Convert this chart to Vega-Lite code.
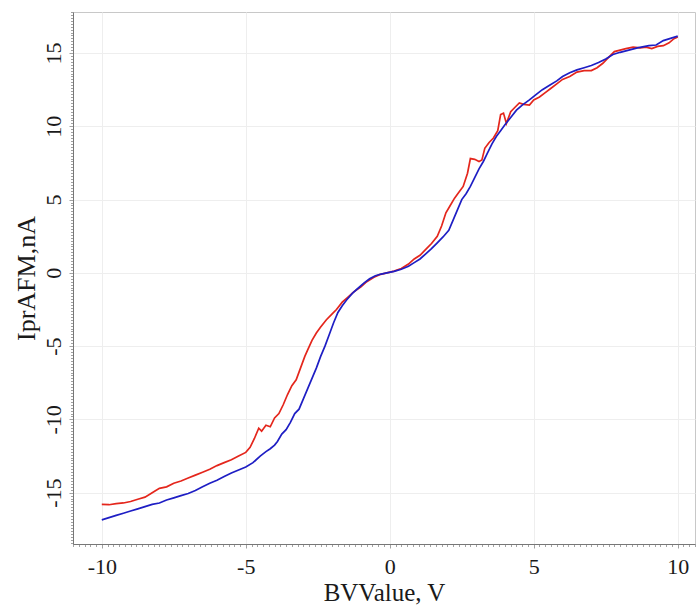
{
  "$schema": "https://vega.github.io/schema/vega-lite/v6.json",
  "width": 622,
  "height": 532,
  "autosize": {"type": "none"},
  "padding": {"left": 73, "top": 12, "right": 1, "bottom": 64},
  "background": "white",
  "config": {
    "view": {"stroke": "#c8c8c8", "strokeWidth": 1},
    "font": "Liberation Serif"
  },
  "data": {"values": [
    {"s":"forward","x":-10,"y":-15.8},{"s":"forward","x":-9.75,"y":-15.82},{"s":"forward","x":-9.5,"y":-15.75},{"s":"forward","x":-9.25,"y":-15.7},{"s":"forward","x":-9.0,"y":-15.6},{"s":"forward","x":-8.75,"y":-15.45},{"s":"forward","x":-8.5,"y":-15.3},{"s":"forward","x":-8.25,"y":-15.0},{"s":"forward","x":-8.0,"y":-14.7},{"s":"forward","x":-7.75,"y":-14.6},{"s":"forward","x":-7.5,"y":-14.35},{"s":"forward","x":-7.25,"y":-14.2},{"s":"forward","x":-7.0,"y":-14.0},{"s":"forward","x":-6.75,"y":-13.8},{"s":"forward","x":-6.5,"y":-13.6},{"s":"forward","x":-6.25,"y":-13.4},{"s":"forward","x":-6.0,"y":-13.15},{"s":"forward","x":-5.75,"y":-12.95},{"s":"forward","x":-5.5,"y":-12.75},{"s":"forward","x":-5.25,"y":-12.5},{"s":"forward","x":-5.0,"y":-12.25},{"s":"forward","x":-4.85,"y":-11.9},{"s":"forward","x":-4.7,"y":-11.3},{"s":"forward","x":-4.55,"y":-10.6},{"s":"forward","x":-4.45,"y":-10.8},{"s":"forward","x":-4.3,"y":-10.4},{"s":"forward","x":-4.15,"y":-10.5},{"s":"forward","x":-4.0,"y":-9.9},{"s":"forward","x":-3.85,"y":-9.6},{"s":"forward","x":-3.7,"y":-9.0},{"s":"forward","x":-3.55,"y":-8.3},{"s":"forward","x":-3.4,"y":-7.7},{"s":"forward","x":-3.25,"y":-7.3},{"s":"forward","x":-3.1,"y":-6.5},{"s":"forward","x":-2.95,"y":-5.7},{"s":"forward","x":-2.85,"y":-5.25},{"s":"forward","x":-2.7,"y":-4.6},{"s":"forward","x":-2.55,"y":-4.1},{"s":"forward","x":-2.4,"y":-3.7},{"s":"forward","x":-2.2,"y":-3.2},{"s":"forward","x":-2.0,"y":-2.8},{"s":"forward","x":-1.85,"y":-2.5},{"s":"forward","x":-1.65,"y":-2.0},{"s":"forward","x":-1.45,"y":-1.65},{"s":"forward","x":-1.25,"y":-1.3},{"s":"forward","x":-1.0,"y":-0.95},{"s":"forward","x":-0.8,"y":-0.6},{"s":"forward","x":-0.55,"y":-0.3},{"s":"forward","x":-0.35,"y":-0.12},{"s":"forward","x":-0.1,"y":0.0},{"s":"forward","x":0.15,"y":0.12},{"s":"forward","x":0.4,"y":0.3},{"s":"forward","x":0.65,"y":0.6},{"s":"forward","x":0.85,"y":0.95},{"s":"forward","x":1.05,"y":1.2},{"s":"forward","x":1.25,"y":1.6},{"s":"forward","x":1.45,"y":2.0},{"s":"forward","x":1.65,"y":2.5},{"s":"forward","x":1.8,"y":3.2},{"s":"forward","x":1.95,"y":4.1},{"s":"forward","x":2.1,"y":4.6},{"s":"forward","x":2.25,"y":5.1},{"s":"forward","x":2.4,"y":5.5},{"s":"forward","x":2.55,"y":5.9},{"s":"forward","x":2.7,"y":6.8},{"s":"forward","x":2.8,"y":7.8},{"s":"forward","x":2.95,"y":7.75},{"s":"forward","x":3.1,"y":7.6},{"s":"forward","x":3.2,"y":7.7},{"s":"forward","x":3.3,"y":8.5},{"s":"forward","x":3.45,"y":8.9},{"s":"forward","x":3.6,"y":9.2},{"s":"forward","x":3.75,"y":9.7},{"s":"forward","x":3.85,"y":10.8},{"s":"forward","x":3.95,"y":10.9},{"s":"forward","x":4.05,"y":10.2},{"s":"forward","x":4.2,"y":11.0},{"s":"forward","x":4.35,"y":11.3},{"s":"forward","x":4.5,"y":11.6},{"s":"forward","x":4.65,"y":11.5},{"s":"forward","x":4.85,"y":11.45},{"s":"forward","x":5.0,"y":11.8},{"s":"forward","x":5.2,"y":12.0},{"s":"forward","x":5.4,"y":12.3},{"s":"forward","x":5.6,"y":12.6},{"s":"forward","x":5.8,"y":12.9},{"s":"forward","x":6.0,"y":13.2},{"s":"forward","x":6.25,"y":13.4},{"s":"forward","x":6.5,"y":13.7},{"s":"forward","x":6.75,"y":13.8},{"s":"forward","x":7.0,"y":13.8},{"s":"forward","x":7.2,"y":14.0},{"s":"forward","x":7.4,"y":14.3},{"s":"forward","x":7.6,"y":14.7},{"s":"forward","x":7.8,"y":15.1},{"s":"forward","x":8.0,"y":15.2},{"s":"forward","x":8.2,"y":15.3},{"s":"forward","x":8.45,"y":15.4},{"s":"forward","x":8.7,"y":15.35},{"s":"forward","x":8.9,"y":15.4},{"s":"forward","x":9.1,"y":15.3},{"s":"forward","x":9.3,"y":15.45},{"s":"forward","x":9.5,"y":15.5},{"s":"forward","x":9.7,"y":15.7},{"s":"forward","x":9.85,"y":15.95},{"s":"forward","x":10.0,"y":16.1},
    {"s":"reverse","x":-10,"y":-16.85},{"s":"reverse","x":-9.75,"y":-16.7},{"s":"reverse","x":-9.5,"y":-16.55},{"s":"reverse","x":-9.25,"y":-16.4},{"s":"reverse","x":-9.0,"y":-16.25},{"s":"reverse","x":-8.75,"y":-16.1},{"s":"reverse","x":-8.5,"y":-15.95},{"s":"reverse","x":-8.25,"y":-15.8},{"s":"reverse","x":-8.0,"y":-15.7},{"s":"reverse","x":-7.75,"y":-15.5},{"s":"reverse","x":-7.5,"y":-15.35},{"s":"reverse","x":-7.25,"y":-15.2},{"s":"reverse","x":-7.0,"y":-15.05},{"s":"reverse","x":-6.75,"y":-14.85},{"s":"reverse","x":-6.5,"y":-14.6},{"s":"reverse","x":-6.25,"y":-14.35},{"s":"reverse","x":-6.0,"y":-14.15},{"s":"reverse","x":-5.75,"y":-13.9},{"s":"reverse","x":-5.5,"y":-13.65},{"s":"reverse","x":-5.25,"y":-13.45},{"s":"reverse","x":-5.0,"y":-13.25},{"s":"reverse","x":-4.75,"y":-12.95},{"s":"reverse","x":-4.5,"y":-12.5},{"s":"reverse","x":-4.3,"y":-12.2},{"s":"reverse","x":-4.15,"y":-12.0},{"s":"reverse","x":-4.0,"y":-11.75},{"s":"reverse","x":-3.9,"y":-11.5},{"s":"reverse","x":-3.75,"y":-11.0},{"s":"reverse","x":-3.6,"y":-10.7},{"s":"reverse","x":-3.45,"y":-10.2},{"s":"reverse","x":-3.3,"y":-9.6},{"s":"reverse","x":-3.15,"y":-9.3},{"s":"reverse","x":-3.0,"y":-8.6},{"s":"reverse","x":-2.85,"y":-7.9},{"s":"reverse","x":-2.7,"y":-7.2},{"s":"reverse","x":-2.55,"y":-6.5},{"s":"reverse","x":-2.4,"y":-5.7},{"s":"reverse","x":-2.25,"y":-5.0},{"s":"reverse","x":-2.1,"y":-4.2},{"s":"reverse","x":-1.95,"y":-3.4},{"s":"reverse","x":-1.8,"y":-2.7},{"s":"reverse","x":-1.65,"y":-2.25},{"s":"reverse","x":-1.5,"y":-1.85},{"s":"reverse","x":-1.3,"y":-1.4},{"s":"reverse","x":-1.1,"y":-1.05},{"s":"reverse","x":-0.9,"y":-0.7},{"s":"reverse","x":-0.7,"y":-0.4},{"s":"reverse","x":-0.5,"y":-0.2},{"s":"reverse","x":-0.3,"y":-0.08},{"s":"reverse","x":-0.1,"y":0.0},{"s":"reverse","x":0.15,"y":0.1},{"s":"reverse","x":0.4,"y":0.25},{"s":"reverse","x":0.65,"y":0.45},{"s":"reverse","x":0.85,"y":0.7},{"s":"reverse","x":1.05,"y":0.95},{"s":"reverse","x":1.25,"y":1.3},{"s":"reverse","x":1.45,"y":1.65},{"s":"reverse","x":1.65,"y":2.05},{"s":"reverse","x":1.85,"y":2.45},{"s":"reverse","x":2.05,"y":2.9},{"s":"reverse","x":2.2,"y":3.6},{"s":"reverse","x":2.35,"y":4.3},{"s":"reverse","x":2.5,"y":5.0},{"s":"reverse","x":2.65,"y":5.4},{"s":"reverse","x":2.8,"y":5.9},{"s":"reverse","x":2.95,"y":6.5},{"s":"reverse","x":3.1,"y":7.1},{"s":"reverse","x":3.25,"y":7.6},{"s":"reverse","x":3.4,"y":8.2},{"s":"reverse","x":3.55,"y":8.8},{"s":"reverse","x":3.7,"y":9.3},{"s":"reverse","x":3.85,"y":9.7},{"s":"reverse","x":4.0,"y":10.1},{"s":"reverse","x":4.2,"y":10.6},{"s":"reverse","x":4.4,"y":11.1},{"s":"reverse","x":4.6,"y":11.45},{"s":"reverse","x":4.85,"y":11.8},{"s":"reverse","x":5.1,"y":12.2},{"s":"reverse","x":5.3,"y":12.5},{"s":"reverse","x":5.55,"y":12.8},{"s":"reverse","x":5.8,"y":13.1},{"s":"reverse","x":6.0,"y":13.4},{"s":"reverse","x":6.25,"y":13.65},{"s":"reverse","x":6.5,"y":13.85},{"s":"reverse","x":6.75,"y":14.0},{"s":"reverse","x":7.0,"y":14.15},{"s":"reverse","x":7.25,"y":14.35},{"s":"reverse","x":7.5,"y":14.6},{"s":"reverse","x":7.75,"y":14.9},{"s":"reverse","x":8.0,"y":15.05},{"s":"reverse","x":8.3,"y":15.2},{"s":"reverse","x":8.6,"y":15.35},{"s":"reverse","x":9.0,"y":15.5},{"s":"reverse","x":9.25,"y":15.55},{"s":"reverse","x":9.5,"y":15.85},{"s":"reverse","x":9.75,"y":16.0},{"s":"reverse","x":10.0,"y":16.15}
  ]},
  "encoding": {
    "x": {
      "field": "x", "type": "quantitative",
      "scale": {"domain": [-11.0, 10.6], "nice": false, "zero": false},
      "axis": {
        "title": "BVValue, V",
        "tickCount": 100,
        "labelExpr": "abs(datum.value/5 - round(datum.value/5)) < 0.001 ? '' + round(datum.value) : ''",
        "labelOverlap": false, "labelFlush": false,
        "labelFont": "Liberation Serif", "labelFontSize": 22, "labelColor": "#1a1a1a",
        "labelPadding": 8, "labelBaseline": "top",
        "tickSize": {"expr": "abs(datum.value/5 - round(datum.value/5)) < 0.001 ? 4 : 2.5"},
        "tickColor": "#8a8a8a", "tickWidth": 0.8,
        "domainColor": "#777777", "domainWidth": 1,
        "grid": true, "gridColor": "#eeeeee", "gridWidth": 1,
        "gridOpacity": {"expr": "abs(datum.value/5 - round(datum.value/5)) < 0.001 ? 1 : 0"},
        "titleFont": "Liberation Serif", "titleFontSize": 25, "titleFontWeight": "normal", "titleColor": "#1a1a1a",
        "titleY": 56, "titleBaseline": "alphabetic"
      }
    },
    "y": {
      "field": "y", "type": "quantitative",
      "scale": {"domain": [-18.5, 17.8], "nice": false, "zero": false},
      "axis": {
        "title": "IprAFM,nA",
        "tickCount": 180,
        "labelExpr": "abs(datum.value/5 - round(datum.value/5)) < 0.001 ? '' + round(datum.value) : ''",
        "labelOverlap": false, "labelFlush": false,
        "labelAngle": 270, "labelAlign": "center", "labelBaseline": "alphabetic",
        "labelFont": "Liberation Serif", "labelFontSize": 22, "labelColor": "#1a1a1a",
        "labelPadding": 9,
        "tickSize": {"expr": "abs(datum.value/5 - round(datum.value/5)) < 0.001 ? 4 : 2.5"},
        "tickColor": "#8a8a8a", "tickWidth": 0.8,
        "domainColor": "#777777", "domainWidth": 1,
        "grid": true, "gridColor": "#eeeeee", "gridWidth": 1,
        "gridOpacity": {"expr": "abs(datum.value/5 - round(datum.value/5)) < 0.001 ? 1 : 0"},
        "titleFont": "Liberation Serif", "titleFontSize": 26, "titleFontWeight": "normal", "titleColor": "#1a1a1a",
        "titleAngle": 270, "titleX": -39, "titleBaseline": "alphabetic"
      }
    }
  },
  "layer": [
    {
      "transform": [{"filter": "datum.s === 'forward'"}],
      "mark": {"type": "line", "color": "#e4261c", "strokeWidth": 1.7},
      "encoding": {}
    },
    {
      "transform": [{"filter": "datum.s === 'reverse'"}],
      "mark": {"type": "line", "color": "#1e1ec4", "strokeWidth": 1.7},
      "encoding": {}
    }
  ]
}
